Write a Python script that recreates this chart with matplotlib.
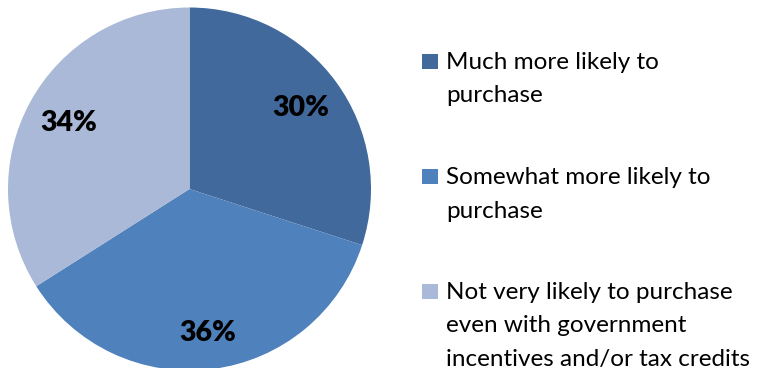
import matplotlib
matplotlib.use("Agg")
import matplotlib.pyplot as plt
from matplotlib.patches import Rectangle

categories = [
    "Much more likely to\npurchase",
    "Somewhat more likely to\npurchase",
    "Not very likely to purchase\neven with government\nincentives and/or tax credits",
]
shares = [30, 36, 34]
colors = ["#41699C", "#4F81BD", "#AAB9D7"]
label_radius = [0.76, 0.80, 0.76]

W, H = 759, 368
fig = plt.figure(figsize=(W / 100, H / 100), dpi=100)
fig.patch.set_facecolor("white")

# pie placed by pixel geometry
cx, cy, r = 189.5, 189.0, 181.5
ax = fig.add_axes([(cx - r) / W, (H - cy - r) / H, 2 * r / W, 2 * r / H])
wedges, _, autotexts = ax.pie(
    shares,
    colors=colors,
    startangle=90,
    counterclock=False,
    radius=1.0,
    autopct=lambda p: f"{p:.0f}%",
    pctdistance=1.0,
    wedgeprops=dict(linewidth=0),
    textprops=dict(fontsize=20.5, fontweight="heavy",
                   family=["Lato", "DejaVu Sans"], color="black"),
)
# pull each percentage label in towards the centre
for t, d in zip(autotexts, label_radius):
    x, y = t.get_position()
    t.set_position((x * d, y * d))

ax.set_xlim(-1, 1)
ax.set_ylim(-1, 1)
ax.set_aspect("equal")
ax.axis("off")

# legend entries on the right
entry_tops = [53, 168, 283]
line_gap = 33.5
for label, col, top in zip(categories, colors, entry_tops):
    fig.patches.append(Rectangle((422 / W, 1 - (top + 16) / H), 16 / W, 15 / H,
                                 transform=fig.transFigure, facecolor=col,
                                 edgecolor="none"))
    for i, line in enumerate(label.split("\n")):
        base = top + 16 + i * line_gap
        fig.text(446 / W, 1 - base / H, line, fontsize=17.5,
                 family=["Lato", "DejaVu Sans"], color="black",
                 ha="left", va="baseline")

fig.savefig("out.png", dpi=100)
